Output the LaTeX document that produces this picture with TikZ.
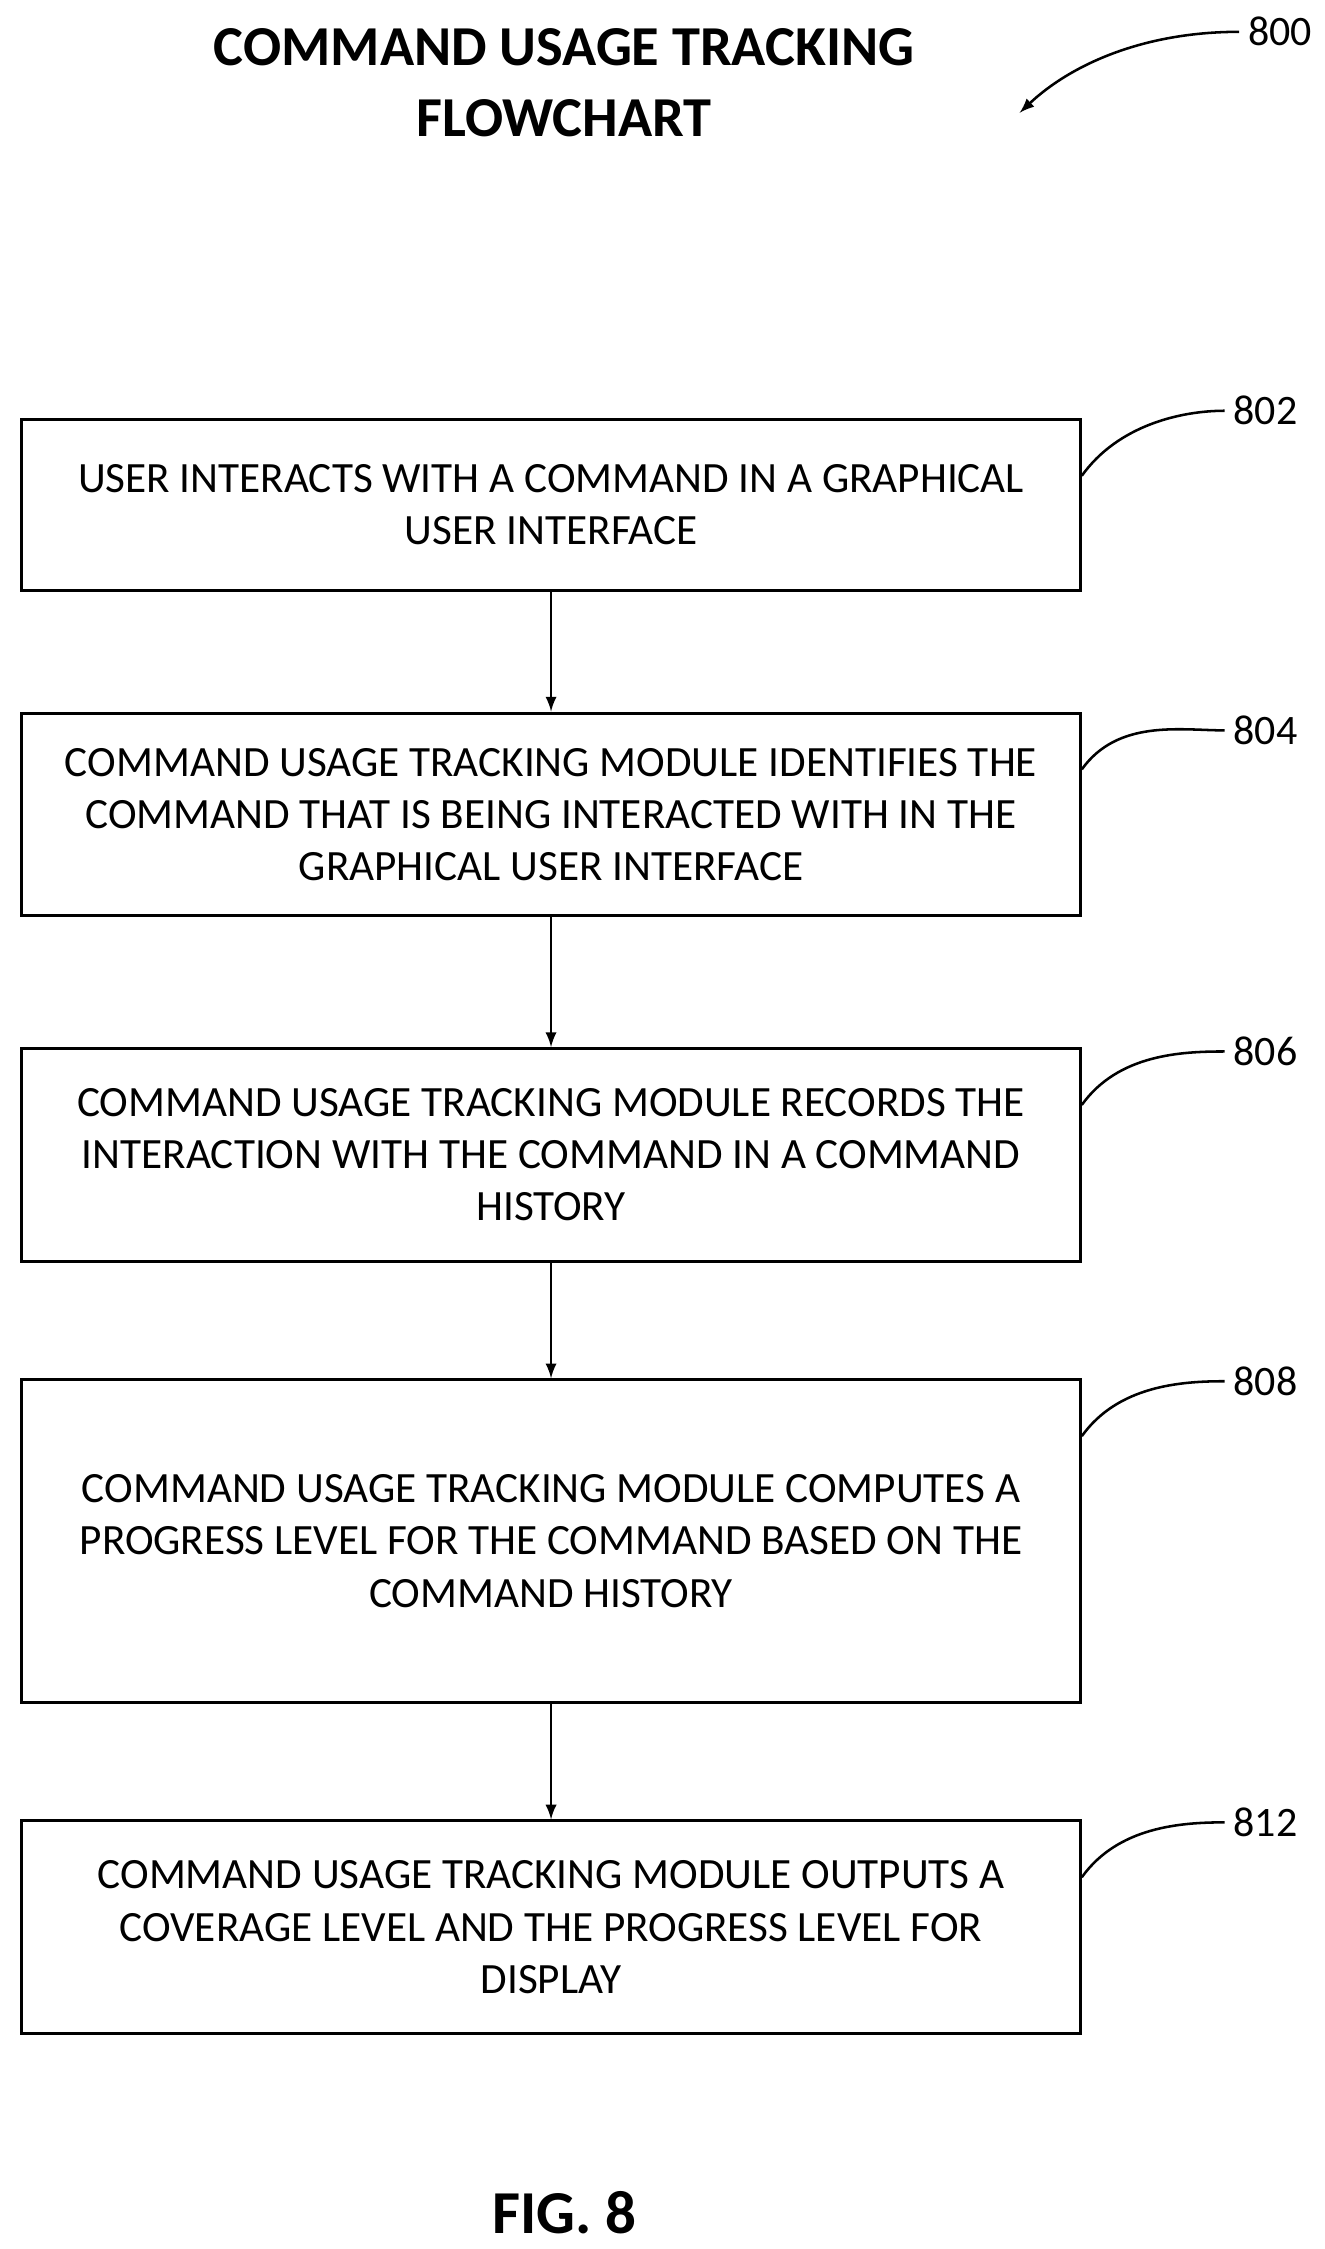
\documentclass[tikz,border=0pt]{standalone}
\usepackage{fontspec}
\setmainfont{Carlito}
\begin{document}
\begin{tikzpicture}[x=0.02cm,y=-0.02cm,
 box/.style={draw,line width=1.2pt,minimum width=14.64cm,align=center,font=\fontsize{17}{20.5}\selectfont,inner sep=0pt},
 arr/.style={-latex,line width=1pt},
 lab/.style={font=\fontsize{16.5}{20}\selectfont},
 sq/.style={line width=1pt}]
\useasboundingbox (0,0) rectangle (916,1555);
\node[font=\bfseries\fontsize{22.2}{28}\selectfont,align=center] (title) at (390,57) {COMMAND USAGE TRACKING\\FLOWCHART};
\node[lab] (l800) at (885,22) {800};
\coordinate (a800) at (705,78);
\draw[arr] (l800.west) .. controls (790,22) and (740,45) .. (a800);
\node[box,minimum height=2.36cm] (b802) at (381,349) {USER INTERACTS WITH A COMMAND IN A GRAPHICAL\\USER INTERFACE};
\node[box,minimum height=2.8cm] (b804) at (381,563) {COMMAND USAGE TRACKING MODULE IDENTIFIES THE\\COMMAND THAT IS BEING INTERACTED WITH IN THE\\GRAPHICAL USER INTERFACE};
\node[box,minimum height=2.94cm] (b806) at (381,798.5) {COMMAND USAGE TRACKING MODULE RECORDS THE\\INTERACTION WITH THE COMMAND IN A COMMAND\\HISTORY};
\node[box,minimum height=4.46cm] (b808) at (381,1065.5) {COMMAND USAGE TRACKING MODULE COMPUTES A\\PROGRESS LEVEL FOR THE COMMAND BASED ON THE\\COMMAND HISTORY};
\node[box,minimum height=2.94cm] (b812) at (381,1332.5) {COMMAND USAGE TRACKING MODULE OUTPUTS A\\COVERAGE LEVEL AND THE PROGRESS LEVEL FOR\\DISPLAY};
\draw[arr] (b802) -- (b804);
\draw[arr] (b804) -- (b806);
\draw[arr] (b806) -- (b808);
\draw[arr] (b808) -- (b812);
\foreach \n/\y in {802/284,804/505,806/727,808/955,812/1260}{
 \node[lab] (l\n) at (875,\y) {\n};
 \draw[sq] (b\n.north east) ++(0,40) .. controls +(25,-35) and +(-30,0) .. (l\n.west);
}
\node[font=\bfseries\fontsize{24}{28}\selectfont] (fig) at (390,1530) {FIG. 8};
\end{tikzpicture}
\end{document}
